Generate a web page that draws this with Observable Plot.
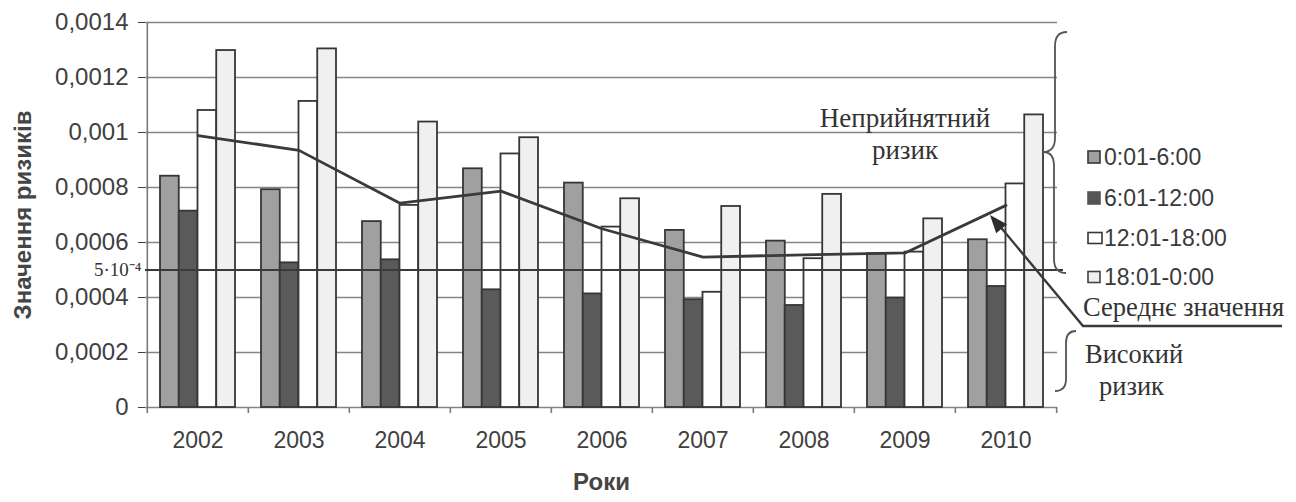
<!DOCTYPE html>
<html>
<head>
<meta charset="utf-8">
<script src="https://cdn.jsdelivr.net/npm/d3@7"></script>
<script src="https://cdn.jsdelivr.net/npm/@observablehq/plot@0.6"></script>
<style>
  body { margin: 0; background: #fff; }
  #chart { width: 1296px; height: 502px; }
</style>
</head>
<body>
<div id="chart"></div>
<script>
// ---------- DATA (values in units of 1e-4) ----------
const years = ["2002", "2003", "2004", "2005", "2006", "2007", "2008", "2009", "2010"];
const seriesNames = ["0:01-6:00", "6:01-12:00", "12:01-18:00", "18:01-0:00"];
const night   = [8.41, 7.92, 6.76, 8.68, 8.16, 6.44, 6.05, 5.59, 6.10];
const morning = [7.14, 5.26, 5.37, 4.28, 4.13, 3.92, 3.71, 3.98, 4.40];
const day     = [10.80, 11.13, 7.35, 9.22, 6.56, 4.19, 5.41, 5.65, 8.13];
const evening = [12.98, 13.04, 10.38, 9.81, 7.59, 7.31, 7.75, 6.86, 10.64];
const meanValues = [9.89, 9.35, 7.43, 7.87, 6.50, 5.47, 5.55, 5.62, 7.35];
const yTicks = [0, 0.0002, 0.0004, 0.0006, 0.0008, 0.001, 0.0012, 0.0014];
const threshold = 0.0005;
const thresholdLabel = "5·10⁻⁴";
const unacceptable = ["Неприйнятний", "ризик"];
const unacceptablePos = {year: "2009", y: [0.001051, 0.000935]};
const meanLabel = "Середнє значення";
const highLabel = ["Високий", "ризик"];
const xLabel = "Роки";
const yLabel = "Значення ризиків";

// ---------- LAYOUT / STYLE ----------
const W = 1296, H = 502, ML = 145, MR = 239, MT = 22, MB = 95;
const PAD_IN = 0.26, PAD_OUT = 0.13;
const step = (W - ML - MR) / (years.length - PAD_IN + 2 * PAD_OUT);
const groupW = step * (1 - PAD_IN);
const barW = groupW / seriesNames.length;
const fills = ["#a0a0a0", "#5a5a5a", "#ffffff", "#f0f0f0"];
const edge = "#363636";
const textColor = "#404040";
const sans = "Liberation Sans, Arial, sans-serif";
const serif = "Liberation Serif, Times New Roman, serif";
const TICK_DEPTH = 0.000022;

const seriesValues = [night, morning, day, evening];
const rows = seriesNames.flatMap((s, i) =>
  years.map((yr, j) => ({year: yr, series: s, idx: i, value: seriesValues[i][j] * 1e-4})));
const meanRows = years.map((yr, j) => ({year: yr, value: meanValues[j] * 1e-4}));
const fmt = d => d === 0 ? "0" : String(+d.toPrecision(4)).replace(".", ",");

const barMarks = seriesNames.map((s, i) =>
  Plot.barY(rows.filter(r => r.idx === i), {
    x: "year", y: "value", fill: fills[i], stroke: edge, strokeWidth: 1.8,
    insetLeft: i * barW, insetRight: (seriesNames.length - 1 - i) * barW
  }));

const plot = Plot.plot({
  width: W, height: H,
  marginLeft: ML, marginRight: MR, marginTop: MT, marginBottom: MB,
  style: {fontFamily: sans, fontSize: "23px", color: textColor, background: "#fff", overflow: "visible"},
  x: {type: "band", domain: years, paddingInner: PAD_IN, paddingOuter: PAD_OUT, label: null},
  y: {domain: [0, 0.0014], label: null},
  marks: [
    // gridlines
    Plot.ruleY(yTicks, {stroke: "#858585", strokeWidth: 1.6}),
    // y axis line
    Plot.ruleX([years[0]], {dx: -step / 2, y1: 0, y2: 0.0014, stroke: "#7a7a7a", strokeWidth: 1.6}),
    // x ticks between groups
    Plot.ruleX(years, {dx: -step / 2, y1: -TICK_DEPTH, y2: 0, stroke: "#7a7a7a", strokeWidth: 1.6}),
    Plot.ruleX([years[years.length - 1]], {dx: step / 2, y1: -TICK_DEPTH, y2: 0, stroke: "#7a7a7a", strokeWidth: 1.6}),
    ...barMarks,
    // threshold line
    Plot.ruleY([threshold], {stroke: "#3a3a3a", strokeWidth: 2.2, insetRight: -6}),
    // mean line
    Plot.line(meanRows, {x: "year", y: "value", stroke: "#3a3a3a", strokeWidth: 2.8}),
    Plot.axisY({ticks: yTicks, tickFormat: fmt, tickSize: 7, tickPadding: 10, label: null, fontSize: 24}),
    Plot.axisX({tickSize: 0, tickPadding: 24, label: null, fontSize: 23}),
    Plot.text([xLabel], {frameAnchor: "bottom", dy: 82, fontWeight: "bold", fontSize: 24, fill: "#454545"}),
    Plot.text([yLabel], {frameAnchor: "left", textAnchor: "middle", dx: -122, rotate: -90, fontWeight: "bold",
      fontSize: 24, fill: "#454545", letterSpacing: "1.3px"}),
    Plot.text([threshold], {y: d => d, frameAnchor: "left", dx: -4, textAnchor: "end", text: () => thresholdLabel,
      fontFamily: serif, fontSize: 19, fill: "#333"}),
    Plot.text(unacceptable, {x: () => unacceptablePos.year, y: (d, i) => unacceptablePos.y[i], text: d => d,
      fontFamily: serif, fontSize: 27, fill: "#333"})
  ]
});

document.getElementById("chart").appendChild(plot);

// ---------- right-hand annotations: legend, braces, arrow ----------
const svg = d3.select(plot);
const ann = svg.append("g").attr("text-anchor", "start");

// legend
const legendY = [157, 198, 238, 277];
const markerSpec = [
  {w: 12, h: 12, fill: fills[0], stroke: edge},
  {w: 12, h: 12, fill: "#555", stroke: "#555"},
  {w: 14, h: 11, fill: "#fff", stroke: edge},
  {w: 12, h: 11, fill: fills[3], stroke: "#444"}
];
seriesNames.forEach((s, i) => {
  const m = markerSpec[i];
  ann.append("rect").attr("x", 1088).attr("y", legendY[i] - m.h / 2)
    .attr("width", m.w).attr("height", m.h)
    .attr("fill", m.fill).attr("stroke", m.stroke).attr("stroke-width", 1.6);
  ann.append("text").attr("x", 1104).attr("y", legendY[i]).attr("dy", "0.36em")
    .attr("font-family", sans).attr("font-size", 23).attr("fill", "#3a3a3a").text(s);
});

// serif annotations on the right
ann.append("text").attr("x", 1083).attr("y", 307).attr("dy", "0.35em")
  .attr("font-family", serif).attr("font-size", 26.5).attr("fill", "#333").text(meanLabel);
ann.append("text").attr("x", 1085).attr("y", 354).attr("dy", "0.35em")
  .attr("font-family", serif).attr("font-size", 26.5).attr("fill", "#333").text(highLabel[0]);
ann.append("text").attr("x", 1099).attr("y", 386).attr("dy", "0.35em")
  .attr("font-family", serif).attr("font-size", 26.5).attr("fill", "#333").text(highLabel[1]);

// braces
const braceStyle = sel => sel.attr("fill", "none").attr("stroke", "#555").attr("stroke-width", 1.8);
ann.append("path").call(braceStyle)
  .attr("d", "M1067,32 Q1055,32 1055,46 L1055,138 Q1055,152 1043,152 Q1054,152 1054,166 L1054,259 Q1054,273 1066,273");
ann.append("path").call(braceStyle)
  .attr("d", "M1076,331 Q1066,331 1066,343 L1066,379 Q1066,391 1055,391");

// arrow from "Середнє значення" to the mean line
const tip = [990, 215], tail = [1083, 326], end = [1282, 326];
ann.append("path").attr("fill", "none").attr("stroke", "#3a3a3a").attr("stroke-width", 2.4)
  .attr("d", `M${end[0]},${end[1]} L${tail[0]},${tail[1]} L${tip[0] + 8},${tip[1] + 9}`);
{
  const dx = tail[0] - tip[0], dy = tail[1] - tip[1], len = Math.hypot(dx, dy);
  const ux = dx / len, uy = dy / len, L = 18, hw = 7;
  const bx = tip[0] + ux * L, by = tip[1] + uy * L;
  ann.append("polygon").attr("fill", "#2e2e2e")
    .attr("points", `${tip[0]},${tip[1]} ${bx - uy * hw},${by + ux * hw} ${bx + uy * hw},${by - ux * hw}`);
}
</script>
</body>
</html>
